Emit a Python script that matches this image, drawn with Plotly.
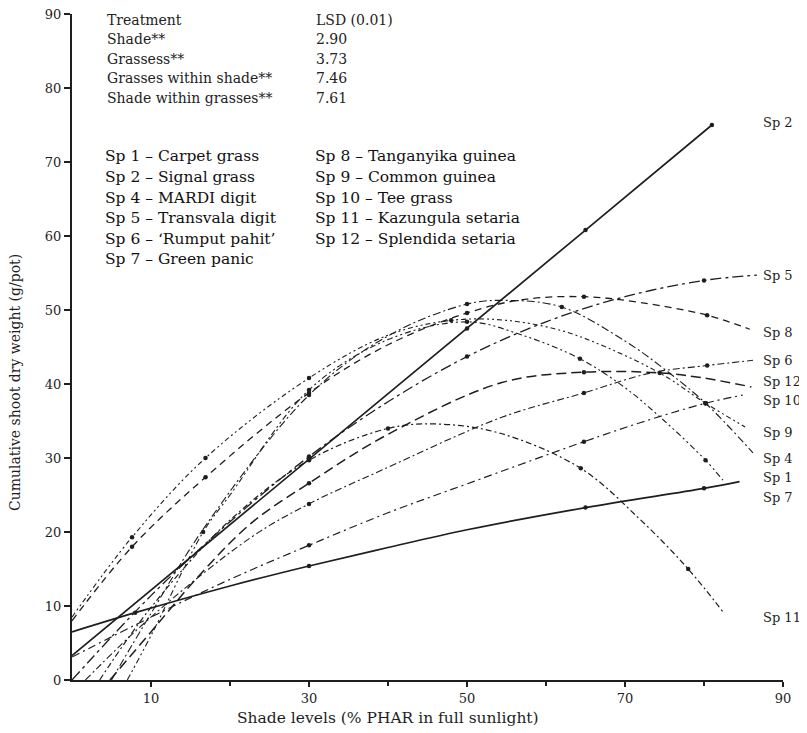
import plotly.graph_objects as go

# ---- data (x = % PHAR, y = g/pot) ----
SP1_X = [7, 10, 16.6, 20, 30, 40, 50, 57, 64.3, 70, 75, 80.2, 82.4]
SP1_Y = [0, 6, 20, 25, 39.2, 46, 48.4, 46.6, 43.4, 39.5, 35, 29.7, 27]
SP1_PTS = [16.6, 30, 50, 64.3, 80.2]

SP2_X = [0, 30, 50, 65, 81]
SP2_Y = [3.3, 29.8, 47.5, 60.8, 75]
SP2_PTS = [30, 50, 65, 81]

SP4_X = [5, 10, 17, 30, 40, 50, 55, 62, 70, 75, 80.2, 86.2]
SP4_Y = [0, 9, 21, 38.5, 46.5, 50.8, 51.3, 50.4, 45.8, 42, 37.4, 30.7]
SP4_PTS = [30, 50, 62, 80.2]

SP5_X = [0, 10, 20, 30, 40, 50, 60, 70, 80, 86.7]
SP5_Y = [0, 11.4, 21.4, 30.2, 37.6, 43.7, 48.4, 51.8, 54, 54.7]
SP5_PTS = [30, 50, 80]

SP6_X = [1.7, 10, 22.7, 30, 39.3, 54.4, 64.8, 73.3, 80.4, 86.2]
SP6_Y = [0, 8.5, 19.3, 23.8, 28.4, 35.5, 38.8, 41.5, 42.5, 43.2]
SP6_PTS = [30, 64.8, 80.4]

SP7_X = [0, 8, 20, 30, 40, 50, 65, 80, 84.5]
SP7_Y = [6.5, 9.1, 12.7, 15.4, 17.9, 20.3, 23.3, 25.9, 26.8]
SP7_PTS = [8, 30, 65, 80]

SP8_X = [0, 7.6, 16.9, 30, 40, 50, 57, 64.8, 72, 80.4, 85.8]
SP8_Y = [8, 18, 27.4, 38.8, 45.3, 49.6, 51.4, 51.8, 51, 49.3, 47.4]
SP8_PTS = [7.6, 16.9, 30, 50, 64.8, 80.4]

SP9_X = [0, 7.6, 16.9, 30, 40, 48, 55, 62, 68, 74.7, 80.2, 85.2]
SP9_Y = [8.5, 19.3, 30, 40.8, 46.6, 48.6, 48.6, 47.2, 44.8, 41.3, 37.4, 34.2]
SP9_PTS = [7.6, 16.9, 30, 48, 80.2]

SP10_X = [0, 10, 20, 30, 40, 50, 64.8, 72, 80.2, 84.9]
SP10_Y = [3.1, 8.5, 13.6, 18.2, 22.6, 26.5, 32.2, 34.8, 37.4, 38.5]
SP10_PTS = [30, 64.8, 80.2]

SP11_X = [3.5, 10, 20, 30, 40, 46, 54, 64.4, 72, 78, 82.4]
SP11_Y = [0, 9.8, 21.6, 29.7, 34, 34.6, 33.4, 28.6, 21.6, 15, 9.2]
SP11_PTS = [30, 40, 64.4, 78]

SP12_X = [4.8, 10, 16, 22.7, 30, 40, 54.4, 64.8, 74.4, 80, 86]
SP12_Y = [0, 6.5, 14, 21.2, 26.6, 33.2, 40.2, 41.6, 41.5, 40.8, 39.6]
SP12_PTS = [30, 64.8, 74.4]

SPECIES = ["Sp 1", "Sp 2", "Sp 4", "Sp 5", "Sp 6", "Sp 7",
           "Sp 8", "Sp 9", "Sp 10", "Sp 11", "Sp 12"]

LEGEND_LEFT = ["Sp 1 \u2013 Carpet grass", "Sp 2 \u2013 Signal grass",
               "Sp 4 \u2013 MARDI digit", "Sp 5 \u2013 Transvala digit",
               "Sp 6 \u2013 \u2018Rumput pahit\u2019", "Sp 7 \u2013 Green panic"]
LEGEND_RIGHT = ["Sp 8 \u2013 Tanganyika guinea", "Sp 9 \u2013 Common guinea",
                "Sp 10 \u2013 Tee grass", "Sp 11 \u2013 Kazungula setaria",
                "Sp 12 \u2013 Splendida setaria"]

LSD_TREATMENT = ["Treatment", "Shade**", "Grassess**",
                 "Grasses within shade**", "Shade within grasses**"]
LSD_VALUES = ["LSD (0.01)", "2.90", "3.73", "7.46", "7.61"]

X_TICKS = [10, 30, 50, 70, 90]
X_MINOR = [20, 40, 60, 80]
Y_TICKS = [0, 10, 20, 30, 40, 50, 60, 70, 80, 90]

# ---- styling ----
INK = "#1e1e1e"
FONT = "DejaVu Serif"

series = {
    "Sp 1": (SP1_X, SP1_Y, SP1_PTS, "6px,3px,2px,3px,2px,3px", 1.1),
    "Sp 2": (SP2_X, SP2_Y, SP2_PTS, "solid", 1.7),
    "Sp 4": (SP4_X, SP4_Y, SP4_PTS, "8px,3px,2px,3px", 1.1),
    "Sp 5": (SP5_X, SP5_Y, SP5_PTS, "11px,4px,3px,4px", 1.3),
    "Sp 6": (SP6_X, SP6_Y, SP6_PTS, "7px,3px,2px,3px", 1.1),
    "Sp 7": (SP7_X, SP7_Y, SP7_PTS, "solid", 1.7),
    "Sp 8": (SP8_X, SP8_Y, SP8_PTS, "7px,5px", 1.3),
    "Sp 9": (SP9_X, SP9_Y, SP9_PTS, "5px,3px,2px,3px,2px,3px", 1.1),
    "Sp 10": (SP10_X, SP10_Y, SP10_PTS, "8px,4px,2px,4px", 1.2),
    "Sp 11": (SP11_X, SP11_Y, SP11_PTS, "6px,3px,2px,3px", 1.2),
    "Sp 12": (SP12_X, SP12_Y, SP12_PTS, "10px,5px", 1.5),
}

label_y = {"Sp 1": 27.3, "Sp 2": 75.3, "Sp 4": 30.0, "Sp 5": 54.7,
           "Sp 6": 43.2, "Sp 7": 24.6, "Sp 8": 46.9, "Sp 9": 33.4,
           "Sp 10": 37.8, "Sp 11": 8.5, "Sp 12": 40.3}

fig = go.Figure()
for name in SPECIES:
    xs, ys, pts, dash, w = series[name]
    shape = "linear" if name == "Sp 2" else "spline"
    fig.add_trace(go.Scatter(x=xs, y=ys, mode="lines", name=name,
                             line=dict(color=INK, width=w, dash=dash,
                                       shape=shape, smoothing=1.0),
                             showlegend=False, hoverinfo="skip"))
    mx = [x for x in xs if x in pts]
    my = [y for x, y in zip(xs, ys) if x in pts]
    fig.add_trace(go.Scatter(x=mx, y=my, mode="markers",
                             marker=dict(color=INK, size=4.5),
                             showlegend=False, hoverinfo="skip"))

# the page body has an 8px margin; plot area lands at x 72..783, y 14..680
W, H = 799, 725
L, T, R, B = 64, 6, 24, 53
PW, PH = W - L - R, H - T - B

annotations = []
# LSD table
row_y = [89.2, 86.6, 83.9, 81.3, 78.6]
for t, v, yy in zip(LSD_TREATMENT, LSD_VALUES, row_y):
    annotations.append(dict(x=4.2, y=yy, text=t, showarrow=False,
                            xanchor="left", yanchor="middle",
                            font=dict(family=FONT, size=14, color="#222")))
    annotations.append(dict(x=30.6, y=yy, text=v, showarrow=False,
                            xanchor="left", yanchor="middle",
                            font=dict(family=FONT, size=14, color="#222")))
# species key
key_y = [70.8, 68.0, 65.2, 62.4, 59.6, 56.9]
for t, yy in zip(LEGEND_LEFT, key_y):
    annotations.append(dict(x=3.9, y=yy, text=t, showarrow=False,
                            xanchor="left", yanchor="middle",
                            font=dict(family=FONT, size=15.5, color="#111")))
for t, yy in zip(LEGEND_RIGHT, key_y):
    annotations.append(dict(x=30.5, y=yy, text=t, showarrow=False,
                            xanchor="left", yanchor="middle",
                            font=dict(family=FONT, size=15.5, color="#111")))
# curve end labels
for name in SPECIES:
    annotations.append(dict(x=87.2, y=label_y[name], text=name, showarrow=False,
                            xanchor="left", yanchor="middle",
                            font=dict(family=FONT, size=13, color=INK)))
# axis titles
annotations.append(dict(x=(388 - 72) / PW, y=-(718 - 680) / PH, xref="paper",
                        yref="paper", text="Shade levels (% PHAR in full sunlight)",
                        showarrow=False, xanchor="center", yanchor="middle",
                        font=dict(family=FONT, size=15.5, color=INK)))
annotations.append(dict(x=-(72 - 15) / PW, y=(680 - 383) / PH, xref="paper",
                        yref="paper", text="Cumulative shoot dry weight (g/pot)",
                        showarrow=False, textangle=-90, xanchor="center",
                        yanchor="middle",
                        font=dict(family=FONT, size=14, color=INK)))

fig.update_layout(
    width=W, height=H,
    margin=dict(l=L, r=R, t=T, b=B, autoexpand=False),
    paper_bgcolor="white", plot_bgcolor="white",
    font=dict(family=FONT, size=13, color=INK),
    annotations=annotations,
    showlegend=False,
    xaxis=dict(range=[0, 90], tickvals=X_TICKS, ticktext=[str(v) for v in X_TICKS],
               automargin=False, ticklabeloverflow="allow",
               showgrid=False, zeroline=False, showline=True, linecolor=INK,
               linewidth=2, ticks="outside", ticklen=5, tickwidth=1.5,
               tickcolor=INK, tickfont=dict(family=FONT, size=13, color=INK),
               minor=dict(tickvals=X_MINOR, ticks="outside", ticklen=4,
                          tickcolor=INK, tickwidth=1.5)),
    yaxis=dict(range=[0, 90], tickvals=Y_TICKS, showgrid=False, zeroline=False,
               automargin=False, ticklabeloverflow="allow",
               showline=True, linecolor=INK, linewidth=2, ticks="outside",
               ticklen=6, tickwidth=1.5, tickcolor=INK,
               tickfont=dict(family=FONT, size=13, color=INK)),
)

fig.write_html("out.html")
